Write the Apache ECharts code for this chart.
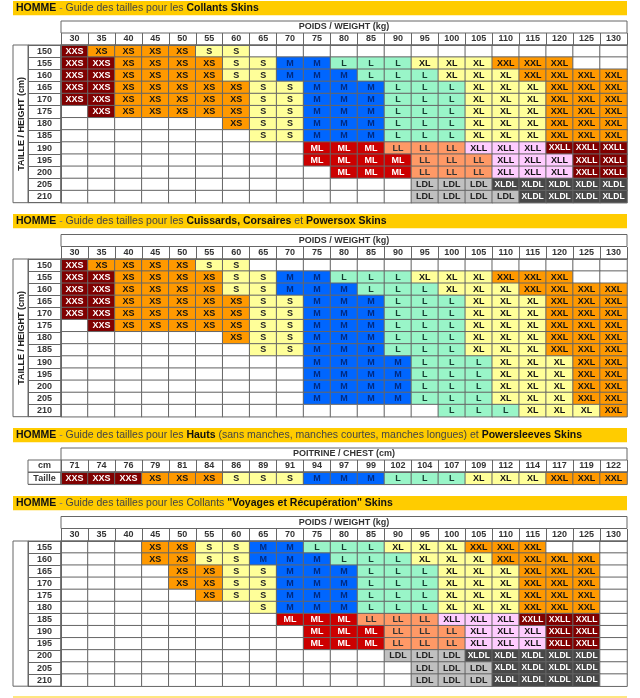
<!DOCTYPE html>
<html><head><meta charset="utf-8">
<style>html,body{margin:0;padding:0;background:#fff}#c{width:640px;height:698px}</style>
<script src="https://cdn.jsdelivr.net/npm/echarts@6/dist/echarts.min.js"></script>
</head><body><div id="c"></div>
<script>
const weights=['30','35','40','45','50','55','60','65','70','75','80','85','90','95','100','105','110','115','120','125','130'];
const chest=['71','74','76','79','81','84','86','89','91','94','97','99','102','104','107','109','112','114','117','119','122'];
const heightsA=['150','155','160','165','170','175','180','185','190','195','200','205','210'];
const heightsB=['155','160','165','170','175','180','185','190','195','200','205','210'];
const collants=[
'XXS XS XS XS XS S S - - - - - - - - - - - - - -',
'XXS XXS XS XS XS XS S S M M L L L XL XL XL XXL XXL XXL - -',
'XXS XXS XS XS XS XS S S M M M L L L XL XL XL XXL XXL XXL XXL',
'XXS XXS XS XS XS XS XS S S M M M L L L XL XL XL XXL XXL XXL',
'XXS XXS XS XS XS XS XS S S M M M L L L XL XL XL XXL XXL XXL',
'- XXS XS XS XS XS XS S S M M M L L L XL XL XL XXL XXL XXL',
'- - - - - - XS S S M M M L L L XL XL XL XXL XXL XXL',
'- - - - - - - S S M M M L L L XL XL XL XXL XXL XXL',
'- - - - - - - - - ML ML ML LL LL LL XLL XLL XLL XXLL XXLL XXLL',
'- - - - - - - - - ML ML ML ML LL LL LL XLL XLL XLL XXLL XXLL',
'- - - - - - - - - - ML ML ML LL LL LL XLL XLL XLL XXLL XXLL',
'- - - - - - - - - - - - - LDL LDL LDL XLDL XLDL XLDL XLDL XLDL',
'- - - - - - - - - - - - - LDL LDL LDL LDL XLDL XLDL XLDL XLDL'];
const cuissards=[
'XXS XS XS XS XS S S - - - - - - - - - - - - - -',
'XXS XXS XS XS XS XS S S M M L L L XL XL XL XXL XXL XXL - -',
'XXS XXS XS XS XS XS S S M M M L L L XL XL XL XXL XXL XXL XXL',
'XXS XXS XS XS XS XS XS S S M M M L L L XL XL XL XXL XXL XXL',
'XXS XXS XS XS XS XS XS S S M M M L L L XL XL XL XXL XXL XXL',
'- XXS XS XS XS XS XS S S M M M L L L XL XL XL XXL XXL XXL',
'- - - - - - XS S S M M M L L L XL XL XL XXL XXL XXL',
'- - - - - - - S S M M M L L L XL XL XL XXL XXL XXL',
'- - - - - - - - - M M M M L L L XL XL XL XXL XXL',
'- - - - - - - - - M M M M L L L XL XL XL XXL XXL',
'- - - - - - - - - M M M M L L L XL XL XL XXL XXL',
'- - - - - - - - - M M M M L L L XL XL XL XXL XXL',
'- - - - - - - - - - - - - - L L L XL XL XL XXL'];
const hauts=['XXS XXS XXS XS XS XS S S S M M M L L L XL XL XL XXL XXL XXL'];
const voyages=[
'- - - XS XS S S M M L L L XL XL XL XXL XXL XXL - - -',
'- - - XS XS S S M M M L L L XL XL XL XXL XXL XXL XXL -',
'- - - - XS XS S S M M M L L L XL XL XL XXL XXL XXL -',
'- - - - XS XS S S M M M L L L XL XL XL XXL XXL XXL -',
'- - - - - XS S S M M M L L L XL XL XL XXL XXL XXL -',
'- - - - - - - S M M M L L L XL XL XL XXL XXL XXL -',
'- - - - - - - - ML ML ML LL LL LL XLL XLL XLL XXLL XXLL XXLL -',
'- - - - - - - - - ML ML ML LL LL LL XLL XLL XLL XXLL XXLL -',
'- - - - - - - - - ML ML ML LL LL LL XLL XLL XLL XXLL XXLL -',
'- - - - - - - - - - - - LDL LDL LDL XLDL XLDL XLDL XLDL XLDL -',
'- - - - - - - - - - - - - LDL LDL LDL XLDL XLDL XLDL XLDL -',
'- - - - - - - - - - - - - LDL LDL LDL XLDL XLDL XLDL XLDL -'];
const fillOf={'-':'#ffffff',XXS:'#800000',XS:'#ff9900',S:'#ffff99',M:'#0066ff',L:'#99f5c8',XL:'#ffff99',XXL:'#ff9900',ML:'#cc0000',LL:'#ff9966',XLL:'#ffccff',XXLL:'#800000',LDL:'#c0c0c0',XLDL:'#484848'};
const inkOf={'-':'#000',XXS:'#fff',XS:'#111',S:'#222',M:'#002a80',L:'#143c30',XL:'#111',XXL:'#111',ML:'#fff',LL:'#333',XLL:'#111',XXLL:'#fff',LDL:'#222',XLDL:'#fff'};
const B='#666666',FF='"Liberation Sans",Arial,sans-serif';
const LEFT=61,W=566,CW=33;
const tables=[
 {band:1,head:21,top:45,h:157.7,cats:weights,ys:heightsA,sizes:collants,name:'POIDS / WEIGHT (kg)',yName:'TAILLE / HEIGHT (cm)',side:true,
  title:'{b|HOMME}{g| - }{n|Guide des tailles pour les }{b|Collants Skins}'},
 {band:214,head:234.5,top:259,h:157.7,cats:weights,ys:heightsA,sizes:cuissards,name:'POIDS / WEIGHT (kg)',yName:'TAILLE / HEIGHT (cm)',side:true,
  title:'{b|HOMME}{g| - }{n|Guide des tailles pour les }{b|Cuissards, Corsaires }{n|et }{b|Powersox Skins}'},
 {band:428,head:448,top:472,h:12.3,cats:chest,ys:['Taille'],sizes:hauts,name:'POITRINE / CHEST (cm)',yName:'',side:false,
  title:'{b|HOMME}{g| - }{n|Guide des tailles pour les }{b|Hauts }{n|(sans manches, manches courtes, manches longues) et }{b|Powersleeves Skins}'},
 {band:496,head:516.5,top:541,h:145.2,cats:weights,ys:heightsB,sizes:voyages,name:'POIDS / WEIGHT (kg)',yName:'',side:true,
  title:'{b|HOMME}{g| - }{n|Guide des tailles pour les Collants }{b|"Voyages et Récupération" Skins}'}
];
const opt={animation:false,backgroundColor:'#fff',title:[],grid:[],xAxis:[],yAxis:[],series:[],graphic:[]};
const rich={b:{fontFamily:FF,fontWeight:'bold',fontSize:10.5,color:'#111'},n:{fontFamily:FF,fontWeight:'normal',fontSize:10.5,color:'#444'},g:{fontFamily:FF,fontWeight:'normal',fontSize:10.5,color:'#777'}};
tables.forEach((t,k)=>{
 opt.graphic.push({type:'rect',shape:{x:13,y:t.band,width:614,height:14.2},style:{fill:'#ffcc00'},z:0});
 opt.graphic.push({type:'rect',shape:{x:LEFT,y:t.head,width:W,height:12},style:{fill:'#fff',stroke:B,lineWidth:1},z:0});
 opt.title.push({text:t.title,left:16,top:t.band+2,padding:0,textStyle:{rich,fontSize:10.5}});
 opt.grid.push({left:LEFT,top:t.top,width:W,height:t.h});
 opt.xAxis.push({type:'category',gridIndex:k,position:'top',z:20,data:t.cats,boundaryGap:true,name:t.name,nameLocation:'middle',nameGap:18,
  nameTextStyle:{fontFamily:FF,fontWeight:'bold',fontSize:9,color:'#333',verticalAlign:'middle'},
  axisLine:{show:true,lineStyle:{color:B,width:1}},axisTick:{show:true,length:12,lineStyle:{color:B,width:1}},
  axisLabel:{interval:0,margin:6,verticalAlign:'middle',fontFamily:FF,fontWeight:'bold',fontSize:9,color:'#333'},splitLine:{show:false}});
 opt.yAxis.push({type:'category',gridIndex:k,inverse:true,z:20,data:t.ys,boundaryGap:true,name:t.yName,nameLocation:'middle',nameGap:CW+4,nameRotate:90,
  nameTextStyle:{fontFamily:FF,fontWeight:'bold',fontSize:9,color:'#222',verticalAlign:'middle'},
  axisLine:{show:true,lineStyle:{color:B,width:1}},axisTick:{show:true,length:CW,lineStyle:{color:B,width:1}},
  axisLabel:{interval:0,margin:CW/2,align:'center',fontFamily:FF,fontWeight:'bold',fontSize:9,color:'#333'},splitLine:{show:false}});
 const data=[];
 t.sizes.forEach((row,j)=>row.split(' ').forEach((s,i)=>data.push({
  value:[i,j,1],itemStyle:{color:fillOf[s]},label:{formatter:s==='-'?'':s,color:inkOf[s],fontSize:s==='XLDL'||s==='XXLL'?8.5:9}})));
 opt.series.push({type:'heatmap',xAxisIndex:k,yAxisIndex:k,data,itemStyle:{borderColor:B,borderWidth:1},
  emphasis:{disabled:true},label:{show:true,fontFamily:FF,fontWeight:'bold',fontSize:9}});
 if(t.side){
  opt.graphic.push({type:'rect',shape:{x:13,y:t.top,width:15.5,height:t.h},style:{fill:'none',stroke:B,lineWidth:1},z:5});
 }
 opt.graphic.push({type:'rect',shape:{x:LEFT-CW,y:t.top,width:CW,height:t.h},style:{fill:'none',stroke:B,lineWidth:1},z:5});
 if(!t.side){
  opt.graphic.push({type:'rect',shape:{x:LEFT-CW,y:t.top-12,width:CW,height:12},style:{fill:'#fff',stroke:B,lineWidth:1},z:5});
  opt.graphic.push({type:'text',x:LEFT-CW/2,y:t.top-6,style:{text:'cm',fontFamily:FF,fontWeight:'bold',fontSize:9,fill:'#333',align:'center',verticalAlign:'middle'},z:6});
 }
});
opt.graphic.push({type:'rect',shape:{x:13,y:696,width:614,height:2},style:{fill:'#ffe680'},z:0});
echarts.init(document.getElementById('c'),null,{renderer:'canvas'}).setOption(opt);
</script></body></html>
